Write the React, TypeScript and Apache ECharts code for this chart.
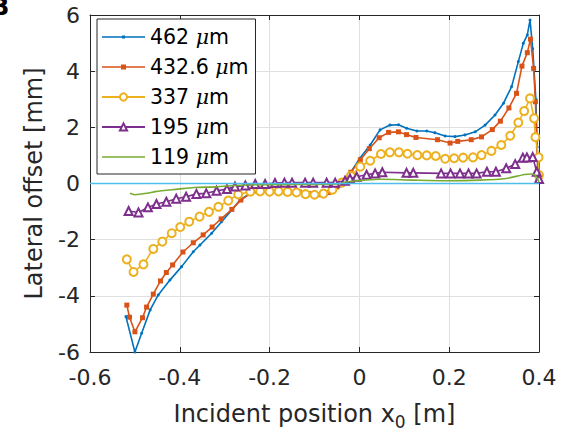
import React, { useEffect, useRef } from "react";
import * as echarts from "echarts";

// ---- data ----
const seriesNames = ["462 μm", "432.6 μm", "337 μm", "195 μm", "119 μm"];

const x462 = [-0.520, -0.500, -0.485, -0.466, -0.448, -0.422, -0.396, -0.370, -0.355, -0.329, -0.307, -0.284, -0.266, -0.244, -0.221, -0.200, -0.180, -0.160, -0.140, -0.120, -0.100, -0.080, -0.060, -0.040, -0.021, 0.001, 0.024, 0.046, 0.068, 0.087, 0.105, 0.128, 0.150, 0.168, 0.191, 0.213, 0.235, 0.258, 0.280, 0.302, 0.321, 0.339, 0.354, 0.365, 0.374, 0.380, 0.386, 0.393, 0.396, 0.398];
const y462 = [-4.74, -6.0, -5.33, -4.50, -3.97, -3.44, -2.96, -2.43, -2.19, -1.77, -1.36, -0.94, -0.59, -0.35, -0.27, -0.30, -0.30, -0.29, -0.31, -0.38, -0.42, -0.40, -0.25, 0.0, 0.36, 0.90, 1.37, 1.91, 2.08, 2.09, 1.97, 1.87, 1.87, 1.81, 1.69, 1.67, 1.73, 1.84, 2.08, 2.44, 2.86, 3.45, 4.34, 4.99, 5.29, 5.82, 4.80, 3.0, 1.3, 0.1];

const x432 = [-0.518, -0.512, -0.500, -0.483, -0.474, -0.459, -0.443, -0.430, -0.416, -0.393, -0.370, -0.348, -0.328, -0.308, -0.284, -0.264, -0.242, -0.221, -0.200, -0.178, -0.156, -0.134, -0.112, -0.090, -0.068, -0.050, -0.039, -0.019, 0.002, 0.022, 0.044, 0.065, 0.087, 0.105, 0.126, 0.174, 0.202, 0.219, 0.249, 0.272, 0.296, 0.314, 0.333, 0.350, 0.362, 0.374, 0.381, 0.388, 0.392, 0.398];
const y432 = [-4.33, -4.76, -5.28, -4.78, -4.40, -3.94, -3.47, -3.17, -2.90, -2.44, -2.11, -1.83, -1.55, -1.26, -0.92, -0.59, -0.35, -0.30, -0.32, -0.30, -0.28, -0.30, -0.36, -0.40, -0.32, -0.12, 0.06, 0.40, 0.84, 1.24, 1.63, 1.82, 1.84, 1.74, 1.64, 1.56, 1.44, 1.50, 1.56, 1.66, 1.92, 2.22, 2.69, 3.21, 4.18, 4.66, 5.14, 4.10, 2.91, 0.15];

const x337 = [-0.518, -0.503, -0.481, -0.459, -0.439, -0.418, -0.399, -0.379, -0.356, -0.335, -0.314, -0.292, -0.270, -0.243, -0.221, -0.200, -0.180, -0.160, -0.140, -0.120, -0.100, -0.080, -0.060, -0.039, -0.019, 0.002, 0.024, 0.048, 0.068, 0.088, 0.107, 0.129, 0.150, 0.170, 0.191, 0.211, 0.231, 0.253, 0.272, 0.294, 0.316, 0.336, 0.354, 0.367, 0.380, 0.389, 0.392, 0.399, 0.400];
const y337 = [-2.70, -3.15, -2.88, -2.33, -2.07, -1.77, -1.55, -1.36, -1.18, -1.01, -0.83, -0.61, -0.39, -0.29, -0.28, -0.29, -0.28, -0.30, -0.32, -0.38, -0.40, -0.36, -0.22, 0.03, 0.27, 0.60, 0.81, 1.05, 1.11, 1.11, 1.06, 1.01, 1.00, 0.98, 0.88, 0.90, 0.92, 0.93, 1.01, 1.16, 1.37, 1.70, 2.17, 2.58, 3.03, 2.32, 1.65, 0.93, 0.30];

const x195 = [-0.514, -0.492, -0.471, -0.452, -0.430, -0.408, -0.386, -0.363, -0.341, -0.318, -0.295, -0.277, -0.254, -0.232, -0.210, -0.188, -0.167, -0.150, -0.121, -0.103, -0.073, -0.054, -0.032, -0.021, -0.006, 0.016, 0.035, 0.051, 0.105, 0.120, 0.182, 0.203, 0.224, 0.243, 0.261, 0.284, 0.304, 0.327, 0.347, 0.364, 0.373, 0.386, 0.395, 0.400];
const y195 = [-0.98, -1.03, -0.85, -0.73, -0.65, -0.54, -0.47, -0.37, -0.35, -0.26, -0.20, -0.11, -0.07, -0.02, -0.02, 0.02, 0.03, 0.03, 0.03, 0.03, 0.03, 0.03, 0.10, 0.18, 0.24, 0.31, 0.36, 0.40, 0.38, 0.38, 0.36, 0.36, 0.36, 0.36, 0.36, 0.42, 0.42, 0.54, 0.69, 0.92, 0.93, 0.94, 0.42, 0.16];

const x119 = [-0.511, -0.500, -0.466, -0.455, -0.404, -0.368, -0.320, -0.265, -0.206, -0.150, -0.100, -0.050, -0.028, 0.046, 0.119, 0.194, 0.269, 0.327, 0.380, 0.391, 0.400];
const y119 = [-0.35, -0.40, -0.33, -0.29, -0.20, -0.14, -0.12, -0.06, -0.04, -0.03, -0.03, -0.02, 0.06, 0.15, 0.12, 0.10, 0.12, 0.18, 0.34, 0.30, 0.06];

const xZero = [-0.6, 0.4];
const yZero = [0, 0];

const xTicks = { min: -0.6, max: 0.4, interval: 0.2 };
const yTicks = { min: -6, max: 6, interval: 2 };

const colors = ["#0072BD", "#D95319", "#EDB120", "#7E2F8E", "#77AC30", "#4DBEEE"];

const FONT = "DejaVu Sans";
const AXIS_COLOR = "#262626";

function pairs(xs: number[], ys: number[]) {
  return xs.map((x, i) => [x, ys[i]]);
}

export default function App() {
  const ref = useRef<HTMLDivElement>(null);

  useEffect(() => {
    if (!ref.current) return;
    const chart = echarts.init(ref.current, undefined, { renderer: "svg" });

    const fmtX = (v: number) => {
      const r = Math.round(v * 10) / 10;
      return r === 0 ? "0" : String(r);
    };

    const lineStyleBase = { width: 1.6 };

    const legendIcons: Record<string, string | undefined> = {
      [seriesNames[0]]: "path://M0,3.7H43V5.3H0Z M20,3H23V6H20Z",
      [seriesNames[1]]: "path://M0,3.7H43V5.3H0Z M19,2H24V7H19Z",
      [seriesNames[4]]: "path://M0,3.7H43V5.3H0Z",
    };

    const option: any = {
      animation: false,
      backgroundColor: "#ffffff",
      grid: { left: 90, right: 34, top: 15, bottom: 88, containLabel: false, outerBoundsMode: "none" },
      xAxis: [
        {
          type: "value",
          min: xTicks.min,
          max: xTicks.max,
          interval: xTicks.interval,
          position: "bottom",
          name: "Incident position x{sub|0} [m]",
          nameLocation: "middle",
          nameGap: 45,
          nameTextStyle: {
            fontFamily: FONT,
            fontSize: 24,
            color: AXIS_COLOR,
            rich: {
              sub: { fontFamily: FONT, fontSize: 17, color: AXIS_COLOR, padding: [16, 0, 0, 0] },
            },
          },
          axisLine: { show: true, onZero: false, lineStyle: { color: AXIS_COLOR, width: 1 } },
          axisTick: { show: true, inside: true, length: 5, lineStyle: { color: AXIS_COLOR } },
          axisLabel: { fontFamily: FONT, fontSize: 22, color: AXIS_COLOR, margin: 14, formatter: fmtX },
          splitLine: { show: true, lineStyle: { color: "#dfdfdf", width: 1 } },
        },
        {
          type: "value",
          min: xTicks.min,
          max: xTicks.max,
          interval: xTicks.interval,
          position: "top",
          axisLine: { show: true, onZero: false, lineStyle: { color: AXIS_COLOR, width: 1 } },
          axisTick: { show: true, inside: true, length: 5, lineStyle: { color: AXIS_COLOR } },
          axisLabel: { show: false },
          splitLine: { show: false },
        },
      ],
      yAxis: [
        {
          type: "value",
          min: yTicks.min,
          max: yTicks.max,
          interval: yTicks.interval,
          position: "left",
          name: "Lateral offset [mm]",
          nameLocation: "middle",
          nameGap: 44,
          nameRotate: 90,
          nameTextStyle: { fontFamily: FONT, fontSize: 24, color: AXIS_COLOR },
          axisLine: { show: true, onZero: false, lineStyle: { color: AXIS_COLOR, width: 1 } },
          axisTick: { show: true, inside: true, length: 5, lineStyle: { color: AXIS_COLOR } },
          axisLabel: { fontFamily: FONT, fontSize: 22, color: AXIS_COLOR, margin: 10 },
          splitLine: { show: true, lineStyle: { color: "#dfdfdf", width: 1 } },
        },
        {
          type: "value",
          min: yTicks.min,
          max: yTicks.max,
          interval: yTicks.interval,
          position: "right",
          axisLine: { show: true, onZero: false, lineStyle: { color: AXIS_COLOR, width: 1 } },
          axisTick: { show: true, inside: true, length: 5, lineStyle: { color: AXIS_COLOR } },
          axisLabel: { show: false },
          splitLine: { show: false },
        },
      ],
      legend: {
        data: seriesNames.map((n) => (legendIcons[n] ? { name: n, icon: legendIcons[n] } : { name: n })),
        orient: "vertical",
        left: 97,
        top: 19,
        padding: [7, 7, 6, 4],
        itemWidth: 43,
        itemHeight: 9,
        itemGap: 8,
        borderColor: AXIS_COLOR,
        borderWidth: 1,
        borderRadius: 0,
        backgroundColor: "#ffffff",
        formatter: (name: string) => name.replace("μ", "{mu|μ}"),
        textStyle: {
          fontFamily: FONT,
          fontSize: 20.5,
          color: "#000000",
          lineHeight: 22,
          rich: {
            mu: { fontFamily: "DejaVu Serif", fontStyle: "italic", fontSize: 20.5, color: "#000000", lineHeight: 22 },
          },
        },
      },
      graphic: [
        {
          type: "text",
          left: -9,
          top: -5,
          style: { text: "B", fontFamily: FONT, fontWeight: "bold", fontSize: 24, fill: "#000" },
        },
      ],
      series: [
        {
          name: seriesNames[0],
          type: "line",
          data: pairs(x462, y462),
          color: colors[0],
          symbol: "circle",
          symbolSize: 3,
          lineStyle: { ...lineStyleBase, color: colors[0] },
          itemStyle: { color: colors[0] },
          z: 3,
        },
        {
          name: seriesNames[1],
          type: "line",
          data: pairs(x432, y432),
          color: colors[1],
          symbol: "rect",
          symbolSize: 5,
          lineStyle: { ...lineStyleBase, color: colors[1] },
          itemStyle: { color: colors[1] },
          z: 4,
        },
        {
          name: seriesNames[2],
          type: "line",
          data: pairs(x337, y337),
          color: colors[2],
          symbol: "emptyCircle",
          symbolSize: 8,
          lineStyle: { ...lineStyleBase, color: colors[2] },
          itemStyle: { color: colors[2], borderColor: colors[2], borderWidth: 1.2 },
          z: 5,
        },
        {
          name: seriesNames[3],
          type: "line",
          data: pairs(x195, y195),
          color: colors[3],
          symbol: "emptyTriangle",
          symbolSize: 8,
          lineStyle: { ...lineStyleBase, color: colors[3] },
          itemStyle: { color: colors[3], borderColor: colors[3], borderWidth: 1.2 },
          z: 6,
        },
        {
          name: seriesNames[4],
          type: "line",
          data: pairs(x119, y119),
          color: colors[4],
          symbol: "none",
          smooth: 0.3,
          lineStyle: { ...lineStyleBase, color: colors[4] },
          itemStyle: { color: colors[4] },
          z: 7,
        },
        {
          name: "zero",
          type: "line",
          data: pairs(xZero, yZero),
          color: colors[5],
          symbol: "none",
          lineStyle: { width: 1.5, color: colors[5] },
          z: 8,
        },
      ],
    };

    chart.setOption(option);
    return () => chart.dispose();
  }, []);

  return (
    <div
      ref={ref}
      style={{ position: "fixed", left: 0, top: 0, width: 573, height: 440 }}
    />
  );
}
